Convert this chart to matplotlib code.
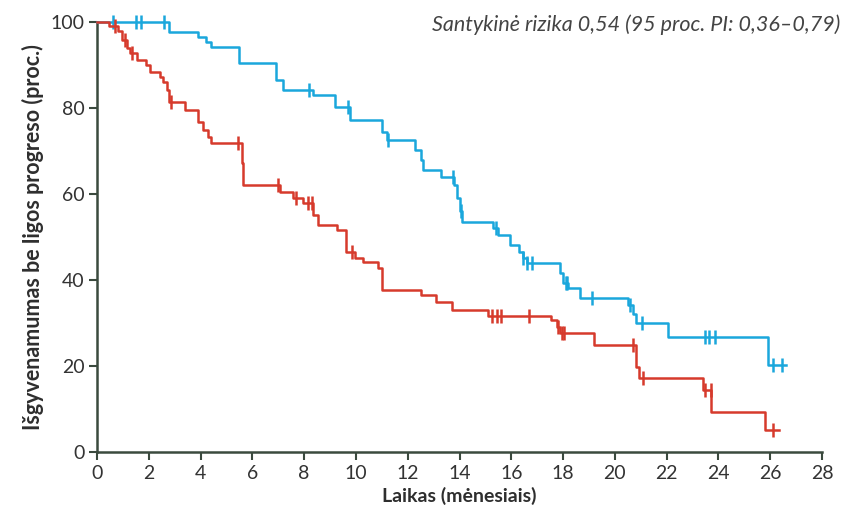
import numpy as np
import matplotlib.pyplot as plt

# Kaplan-Meier steps: time of drop (months) and level after drop (%)
blue_t = [0, 2.8, 3.9, 4.2, 4.4, 5.5, 6.9, 7.2, 8.35, 9.2, 9.77, 11.0, 11.2, 12.3, 12.5, 12.6,
          13.3, 13.8, 13.9, 14.0, 14.1, 15.3, 15.5, 15.95, 16.3, 16.45, 16.6, 17.9, 18.0, 18.2,
          18.65, 20.5, 20.7, 20.8, 22.05, 25.9]
blue_s = [100, 97.7, 96.6, 95.4, 94.3, 90.4, 86.5, 84.2, 83.0, 80.3, 77.2, 74.5, 72.6, 70.2, 67.9, 65.6,
          64.0, 62.0, 59.0, 56.0, 53.6, 52.0, 50.5, 48.1, 46.6, 45.1, 43.9, 41.6, 39.3, 38.1,
          35.8, 34.2, 32.0, 30.0, 26.8, 20.2]
blue_end = 26.6
blue_cens = [0.6, 1.5, 1.7, 2.6, 8.2, 9.7, 11.25, 13.75, 14.05, 15.4, 16.45, 16.6, 16.8, 18.1, 18.15,
             19.1, 20.6, 21.05, 23.5, 23.65, 23.85, 26.1, 26.45]

red_t = [0, 0.45, 0.8, 0.95, 1.15, 1.27, 1.53, 1.9, 2.05, 2.43, 2.56, 2.7, 2.8, 3.4, 3.9, 4.1, 4.3,
         4.42, 5.6, 5.65, 7.07, 7.57, 7.96, 8.35, 8.55, 9.25, 9.6, 9.96, 10.27, 10.85, 10.99, 12.53,
         13.1, 13.7, 15.1, 17.55, 17.75, 17.9, 19.2, 20.8, 20.95, 23.4, 23.73, 25.8]
red_s = [100, 99.0, 98.0, 95.8, 94.0, 92.8, 91.2, 90.0, 88.4, 87.3, 86.1, 84.2, 81.5, 79.5, 76.8, 74.9, 73.3,
         71.8, 67.2, 62.1, 60.5, 59.0, 57.9, 55.1, 52.8, 51.6, 46.6, 45.1, 44.3, 42.8, 37.7, 36.5,
         35.0, 33.0, 31.6, 30.7, 29.1, 27.6, 24.9, 19.8, 17.2, 14.4, 9.4, 5.1]
red_end = 26.35
red_cens = [0.7, 1.08, 1.35, 2.85, 5.45, 7.0, 7.7, 8.15, 8.3, 9.83, 15.24, 15.43, 15.62, 16.7,
            17.8, 17.95, 18.05, 20.7, 21.1, 23.5, 23.7, 26.1]

x_ticks = list(range(0, 29, 2))
y_ticks = [0, 20, 40, 60, 80, 100]

blue_col = '#1aa7dc'
red_col = '#d63a2c'
axis_col = '#3b4a3e'

plt.rcParams['font.family'] = ['Lato', 'DejaVu Sans']

fig = plt.figure(figsize=(8.56, 5.18), dpi=100)
ax = fig.add_axes([0.1133, 0.1274, 0.8470, 0.8301])


def km(ax, t, s, end, cens, col):
    xs = list(t) + [end]
    ys = list(s) + [s[-1]]
    ax.step(xs, ys, where='post', color=col, lw=1.8, clip_on=False, zorder=3)
    idx = np.searchsorted(t, cens, side='right') - 1
    cy = np.array(s)[idx]
    ax.plot(cens, cy, ls='none', marker='|', ms=10, mew=1.8, color=col, clip_on=False, zorder=3)


km(ax, blue_t, blue_s, blue_end, blue_cens, blue_col)
km(ax, red_t, red_s, red_end, red_cens, red_col)

ax.set_xlim(0, 28)
ax.set_ylim(0, 100)
ax.set_xticks(x_ticks)
ax.set_yticks(y_ticks)
ax.spines['top'].set_visible(False)
ax.spines['right'].set_visible(False)
for sp in ['left', 'bottom']:
    ax.spines[sp].set_color(axis_col)
    ax.spines[sp].set_linewidth(1.8)
ax.tick_params(colors=axis_col, width=1.5, length=6, labelsize=14, labelcolor='#333333', pad=3)

ax.set_xlabel('Laikas (mėnesiais)', fontsize=14, fontweight='bold', color='#2e2e2e', labelpad=4)
ax.set_ylabel('Išgyvenamumas be ligos progreso (proc.)', fontsize=15.5, fontweight='bold',
              color='#2e2e2e', labelpad=5)

fig.text(0.505, 0.94, 'Santykinė rizika 0,54 (95 proc. PI: 0,36–0,79)', fontsize=15.5,
         style='italic', color='#444444', ha='left', va='baseline')

fig.savefig('out.png', dpi=100)
